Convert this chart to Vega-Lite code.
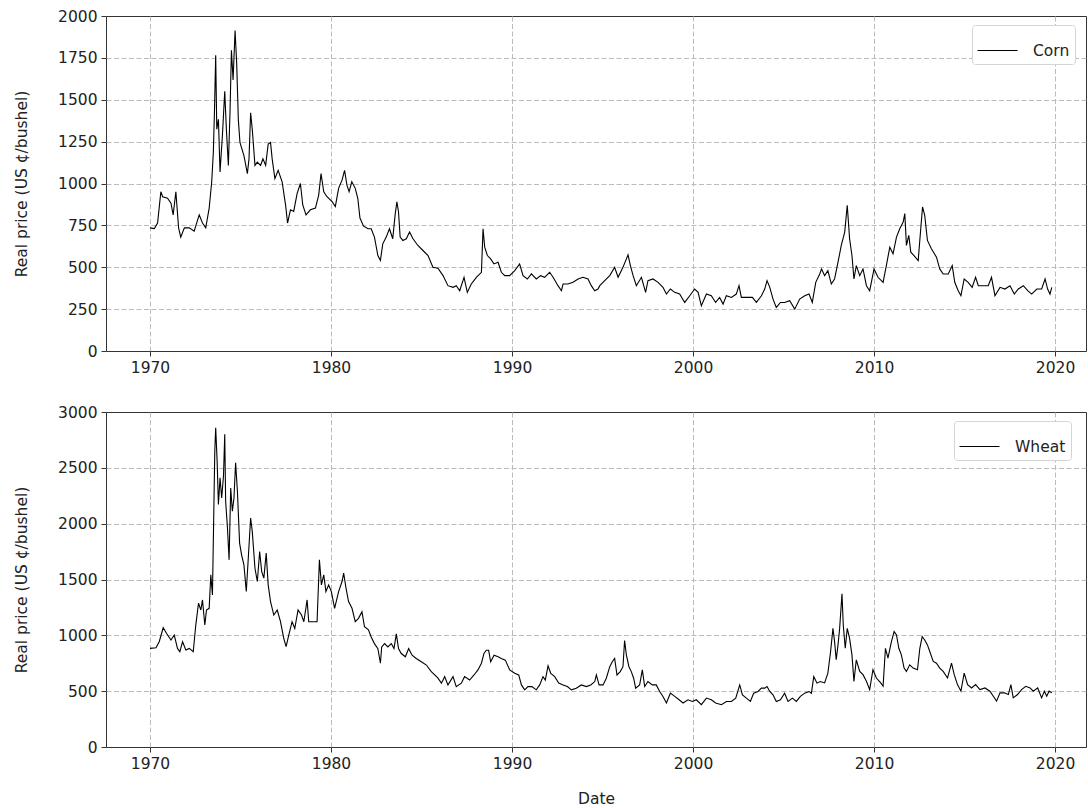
{
  "$schema": "https://vega.github.io/schema/vega-lite/v6.json",
  "padding": {"left": 14, "top": 8, "right": 0, "bottom": 0},
  "datasets": {
    "corn": [
      {"date":1970.0,"price":735},{"date":1970.24,"price":731},{"date":1970.42,"price":764},{"date":1970.6,"price":951},{"date":1970.7,"price":921},{"date":1970.97,"price":912},{"date":1971.16,"price":882},{"date":1971.28,"price":813},{"date":1971.43,"price":951},{"date":1971.58,"price":735},{"date":1971.7,"price":680},{"date":1971.9,"price":735},{"date":1972.17,"price":735},{"date":1972.44,"price":715},{"date":1972.72,"price":813},{"date":1972.9,"price":764},{"date":1973.08,"price":735},{"date":1973.27,"price":853},{"date":1973.41,"price":1010},{"date":1973.5,"price":1186},{"date":1973.56,"price":1422},{"date":1973.63,"price":1766},{"date":1973.69,"price":1324},{"date":1973.78,"price":1383},{"date":1973.87,"price":1069},{"date":1974.0,"price":1285},{"date":1974.13,"price":1550},{"date":1974.22,"price":1324},{"date":1974.33,"price":1108},{"date":1974.42,"price":1422},{"date":1974.5,"price":1795},{"date":1974.59,"price":1618},{"date":1974.7,"price":1913},{"date":1974.79,"price":1717},{"date":1974.88,"price":1383},{"date":1974.97,"price":1245},{"date":1975.19,"price":1167},{"date":1975.38,"price":1059},{"date":1975.47,"price":1147},{"date":1975.56,"price":1422},{"date":1975.65,"price":1324},{"date":1975.8,"price":1108},{"date":1975.93,"price":1128},{"date":1976.11,"price":1108},{"date":1976.24,"price":1147},{"date":1976.39,"price":1108},{"date":1976.53,"price":1236},{"date":1976.66,"price":1245},{"date":1976.75,"price":1147},{"date":1976.9,"price":1029},{"date":1977.08,"price":1079},{"date":1977.3,"price":1010},{"date":1977.49,"price":872},{"date":1977.6,"price":764},{"date":1977.76,"price":843},{"date":1977.94,"price":833},{"date":1978.13,"price":941},{"date":1978.31,"price":1000},{"date":1978.44,"price":872},{"date":1978.62,"price":813},{"date":1978.86,"price":843},{"date":1979.14,"price":853},{"date":1979.32,"price":931},{"date":1979.45,"price":1059},{"date":1979.6,"price":951},{"date":1979.78,"price":921},{"date":1980.06,"price":892},{"date":1980.24,"price":863},{"date":1980.42,"price":971},{"date":1980.61,"price":1020},{"date":1980.75,"price":1079},{"date":1980.88,"price":990},{"date":1981.0,"price":951},{"date":1981.15,"price":1010},{"date":1981.34,"price":971},{"date":1981.48,"price":912},{"date":1981.6,"price":794},{"date":1981.8,"price":745},{"date":1982.05,"price":730},
      {"date":1982.22,"price":730},{"date":1982.4,"price":680},{"date":1982.59,"price":570},{"date":1982.73,"price":540},{"date":1982.86,"price":640},{"date":1983.05,"price":680},{"date":1983.23,"price":730},{"date":1983.41,"price":670},{"date":1983.55,"price":820},{"date":1983.64,"price":890},{"date":1983.73,"price":830},{"date":1983.82,"price":680},{"date":1983.97,"price":660},{"date":1984.16,"price":670},{"date":1984.34,"price":710},{"date":1984.53,"price":670},{"date":1984.8,"price":630},{"date":1985.08,"price":600},{"date":1985.36,"price":570},{"date":1985.63,"price":500},{"date":1985.91,"price":494},{"date":1986.19,"price":450},{"date":1986.46,"price":390},{"date":1986.74,"price":380},{"date":1986.92,"price":390},{"date":1987.11,"price":360},{"date":1987.35,"price":440},{"date":1987.53,"price":350},{"date":1987.75,"price":400},{"date":1988.03,"price":440},{"date":1988.31,"price":470},{"date":1988.4,"price":730},{"date":1988.49,"price":620},{"date":1988.64,"price":570},{"date":1988.82,"price":550},{"date":1989.0,"price":520},{"date":1989.23,"price":530},{"date":1989.41,"price":470},{"date":1989.6,"price":450},{"date":1989.87,"price":450},{"date":1990.15,"price":480},{"date":1990.42,"price":520},{"date":1990.61,"price":450},{"date":1990.85,"price":430},{"date":1991.07,"price":460},{"date":1991.34,"price":430},{"date":1991.58,"price":450},{"date":1991.8,"price":440},{"date":1992.08,"price":470},{"date":1992.27,"price":440},{"date":1992.54,"price":390},{"date":1992.73,"price":360},{"date":1992.82,"price":400},{"date":1993.09,"price":400},{"date":1993.37,"price":410},{"date":1993.65,"price":430},{"date":1993.92,"price":440},{"date":1994.2,"price":430},{"date":1994.38,"price":390},{"date":1994.57,"price":360},
      {"date":1994.75,"price":370},{"date":1994.85,"price":390},{"date":1995.12,"price":420},{"date":1995.4,"price":450},{"date":1995.67,"price":500},{"date":1995.86,"price":440},{"date":1996.13,"price":500},{"date":1996.32,"price":550},{"date":1996.41,"price":574},{"date":1996.54,"price":510},{"date":1996.69,"price":450},{"date":1996.87,"price":390},{"date":1997.15,"price":440},{"date":1997.38,"price":350},{"date":1997.51,"price":420},{"date":1997.79,"price":430},{"date":1998.07,"price":410},{"date":1998.34,"price":380},{"date":1998.53,"price":340},{"date":1998.75,"price":370},{"date":1998.99,"price":350},{"date":1999.26,"price":340},{"date":1999.54,"price":290},{"date":1999.82,"price":330},{"date":2000.09,"price":370},{"date":2000.28,"price":350},{"date":2000.46,"price":270},{"date":2000.74,"price":340},{"date":2001.01,"price":330},{"date":2001.25,"price":290},{"date":2001.47,"price":320},{"date":2001.66,"price":280},{"date":2001.84,"price":330},{"date":2002.12,"price":320},{"date":2002.39,"price":340},{"date":2002.54,"price":390},{"date":2002.67,"price":320},{"date":2002.95,"price":320},{"date":2003.28,"price":320},{"date":2003.5,"price":290},{"date":2003.78,"price":330},{"date":2003.96,"price":370},{"date":2004.09,"price":420},{"date":2004.24,"price":380},{"date":2004.42,"price":310},{"date":2004.6,"price":260},{"date":2004.83,"price":290},{"date":2005.06,"price":290},{"date":2005.34,"price":300},{"date":2005.62,"price":250},{"date":2005.89,"price":310},{"date":2006.17,"price":330},{"date":2006.41,"price":340},{"date":2006.59,"price":290},{"date":2006.78,"price":410},{"date":2007.0,"price":460},
      {"date":2007.1,"price":490},{"date":2007.27,"price":450},{"date":2007.45,"price":480},{"date":2007.64,"price":400},{"date":2007.82,"price":430},{"date":2008.01,"price":530},{"date":2008.19,"price":630},{"date":2008.38,"price":710},{"date":2008.52,"price":870},{"date":2008.65,"price":670},{"date":2008.78,"price":570},{"date":2008.89,"price":430},{"date":2009.02,"price":510},{"date":2009.21,"price":450},{"date":2009.39,"price":490},{"date":2009.58,"price":390},{"date":2009.76,"price":360},{"date":2010.0,"price":490},{"date":2010.22,"price":440},{"date":2010.5,"price":410},{"date":2010.68,"price":510},{"date":2010.87,"price":620},{"date":2011.05,"price":580},{"date":2011.24,"price":680},{"date":2011.42,"price":730},{"date":2011.61,"price":770},{"date":2011.7,"price":820},{"date":2011.79,"price":630},{"date":2011.92,"price":690},{"date":2012.03,"price":590},{"date":2012.21,"price":570},{"date":2012.44,"price":540},{"date":2012.58,"price":730},{"date":2012.68,"price":860},{"date":2012.8,"price":810},{"date":2012.95,"price":660},{"date":2013.17,"price":610},{"date":2013.45,"price":560},{"date":2013.63,"price":490},{"date":2013.82,"price":460},{"date":2014.1,"price":460},{"date":2014.32,"price":510},{"date":2014.46,"price":410},{"date":2014.65,"price":360},{"date":2014.8,"price":330},{"date":2014.98,"price":430},{"date":2015.2,"price":410},{"date":2015.42,"price":380},{"date":2015.61,"price":440},{"date":2015.76,"price":390},{"date":2016.03,"price":390},{"date":2016.31,"price":390},{"date":2016.49,"price":440},{"date":2016.68,"price":330},{"date":2016.96,"price":380},{"date":2017.23,"price":370},{"date":2017.51,"price":390},{"date":2017.75,"price":340},{"date":2017.97,"price":370},{"date":2018.25,"price":390},{"date":2018.49,"price":360},{"date":2018.71,"price":340},{"date":2018.99,"price":370},{"date":2019.26,"price":370},{"date":2019.45,"price":430},{"date":2019.59,"price":370},{"date":2019.72,"price":340},{"date":2019.82,"price":380}
    ],
    "wheat": [
      {"date":1970.0,"price":883},{"date":1970.33,"price":889},{"date":1970.51,"price":943},{"date":1970.73,"price":1068},{"date":1970.92,"price":1017},{"date":1971.16,"price":958},{"date":1971.34,"price":1003},{"date":1971.52,"price":883},{"date":1971.65,"price":853},{"date":1971.8,"price":943},{"date":1971.98,"price":868},{"date":1972.17,"price":883},{"date":1972.39,"price":853},{"date":1972.53,"price":1092},{"date":1972.68,"price":1287},{"date":1972.81,"price":1227},{"date":1972.9,"price":1317},{"date":1973.03,"price":1092},{"date":1973.12,"price":1227},{"date":1973.27,"price":1242},{"date":1973.36,"price":1542},{"date":1973.45,"price":1362},{"date":1973.52,"price":2051},{"date":1973.58,"price":2650},{"date":1973.63,"price":2859},{"date":1973.71,"price":2560},{"date":1973.78,"price":2171},{"date":1973.87,"price":2410},{"date":1973.96,"price":2230},{"date":1974.06,"price":2425},{"date":1974.13,"price":2800},{"date":1974.18,"price":2200},{"date":1974.28,"price":1961},{"date":1974.37,"price":1676},{"date":1974.46,"price":2320},{"date":1974.55,"price":2111},{"date":1974.64,"price":2230},{"date":1974.73,"price":2545},{"date":1974.83,"price":2290},{"date":1974.95,"price":1826},{"date":1975.06,"price":1721},{"date":1975.19,"price":1631},{"date":1975.32,"price":1392},{"date":1975.43,"price":1691},{"date":1975.56,"price":2051},{"date":1975.65,"price":1931},{"date":1975.8,"price":1601},{"date":1975.93,"price":1482},{"date":1976.06,"price":1751},{"date":1976.17,"price":1572},{"date":1976.29,"price":1512},{"date":1976.42,"price":1736},{"date":1976.53,"price":1452},{"date":1976.66,"price":1302},{"date":1976.84,"price":1182},{"date":1977.03,"price":1227},{"date":1977.21,"price":1122},{"date":1977.39,"price":973},{"date":1977.52,"price":898},{"date":1977.67,"price":1003},{"date":1977.85,"price":1122},{"date":1978.0,"price":1062},{"date":1978.18,"price":1227},{"date":1978.37,"price":1182},{"date":1978.5,"price":1122},{"date":1978.68,"price":1317},{"date":1978.77,"price":1122},{"date":1978.95,"price":1122},{"date":1979.23,"price":1122},{"date":1979.36,"price":1676},{"date":1979.47,"price":1452},{"date":1979.6,"price":1542},{"date":1979.72,"price":1392},{"date":1979.87,"price":1452},{"date":1980.02,"price":1392},{"date":1980.2,"price":1242},{"date":1980.42,"price":1392},{"date":1980.61,"price":1482},{"date":1980.7,"price":1557},{"date":1980.83,"price":1422},{"date":1980.97,"price":1302},{"date":1981.16,"price":1242},{"date":1981.34,"price":1122},{"date":1981.52,"price":1152},{"date":1981.71,"price":1212},{"date":1981.85,"price":1077},{"date":1982.07,"price":1050},
      {"date":1982.22,"price":985},{"date":1982.4,"price":926},{"date":1982.59,"price":881},{"date":1982.73,"price":750},{"date":1982.8,"price":896},{"date":1982.96,"price":926},{"date":1983.14,"price":896},{"date":1983.33,"price":926},{"date":1983.48,"price":881},{"date":1983.61,"price":1013},{"date":1983.73,"price":881},{"date":1983.88,"price":837},{"date":1984.11,"price":808},{"date":1984.29,"price":881},{"date":1984.48,"price":822},{"date":1984.71,"price":793},{"date":1984.99,"price":763},{"date":1985.27,"price":734},{"date":1985.54,"price":675},{"date":1985.73,"price":645},{"date":1985.91,"price":616},{"date":1986.1,"price":572},{"date":1986.28,"price":630},{"date":1986.46,"price":556},{"date":1986.74,"price":630},{"date":1986.92,"price":541},{"date":1987.2,"price":572},{"date":1987.38,"price":630},{"date":1987.66,"price":600},{"date":1987.9,"price":645},{"date":1988.12,"price":690},{"date":1988.31,"price":750},{"date":1988.45,"price":837},{"date":1988.58,"price":866},{"date":1988.71,"price":866},{"date":1988.82,"price":763},{"date":1989.01,"price":822},{"date":1989.23,"price":808},{"date":1989.41,"price":793},{"date":1989.63,"price":778},{"date":1989.87,"price":690},{"date":1990.15,"price":660},{"date":1990.37,"price":645},{"date":1990.52,"price":556},{"date":1990.7,"price":512},{"date":1990.88,"price":541},{"date":1991.1,"price":541},{"date":1991.34,"price":512},{"date":1991.53,"price":556},{"date":1991.71,"price":630},{"date":1991.84,"price":600},{"date":1991.99,"price":727},{"date":1992.14,"price":660},{"date":1992.36,"price":630},{"date":1992.58,"price":572},{"date":1992.82,"price":556},{"date":1993.06,"price":541},{"date":1993.28,"price":512},{"date":1993.55,"price":527},{"date":1993.83,"price":556},{"date":1994.11,"price":541},{"date":1994.35,"price":556},{"date":1994.57,"price":586},
      {"date":1994.66,"price":645},{"date":1994.81,"price":556},{"date":1995.03,"price":556},{"date":1995.21,"price":616},{"date":1995.4,"price":719},{"date":1995.54,"price":763},{"date":1995.67,"price":793},{"date":1995.8,"price":645},{"date":1995.98,"price":675},{"date":1996.13,"price":719},{"date":1996.22,"price":954},{"date":1996.32,"price":822},{"date":1996.46,"price":719},{"date":1996.59,"price":675},{"date":1996.72,"price":616},{"date":1996.83,"price":527},{"date":1997.05,"price":556},{"date":1997.2,"price":690},{"date":1997.33,"price":541},{"date":1997.51,"price":586},{"date":1997.75,"price":556},{"date":1997.97,"price":556},{"date":1998.16,"price":497},{"date":1998.34,"price":453},{"date":1998.53,"price":394},{"date":1998.75,"price":482},{"date":1998.99,"price":453},{"date":1999.23,"price":423},{"date":1999.45,"price":394},{"date":1999.72,"price":423},{"date":1999.96,"price":408},{"date":2000.18,"price":423},{"date":2000.46,"price":379},{"date":2000.74,"price":438},{"date":2001.01,"price":423},{"date":2001.25,"price":394},{"date":2001.57,"price":379},{"date":2001.84,"price":408},{"date":2002.12,"price":408},{"date":2002.36,"price":438},{"date":2002.58,"price":556},{"date":2002.73,"price":467},{"date":2002.95,"price":438},{"date":2003.17,"price":408},{"date":2003.35,"price":482},{"date":2003.59,"price":497},{"date":2003.78,"price":527},{"date":2003.96,"price":527},{"date":2004.09,"price":541},{"date":2004.24,"price":497},{"date":2004.42,"price":467},{"date":2004.6,"price":408},{"date":2004.83,"price":423},{"date":2005.06,"price":482},{"date":2005.25,"price":408},{"date":2005.49,"price":438},{"date":2005.71,"price":408},{"date":2005.93,"price":453},{"date":2006.17,"price":482},{"date":2006.41,"price":497},{"date":2006.54,"price":482},{"date":2006.67,"price":630},{"date":2006.85,"price":572},{"date":2007.03,"price":586},
      {"date":2007.27,"price":574},{"date":2007.45,"price":662},{"date":2007.6,"price":855},{"date":2007.73,"price":1062},{"date":2007.82,"price":944},{"date":2007.91,"price":781},{"date":2008.01,"price":914},{"date":2008.1,"price":1062},{"date":2008.23,"price":1373},{"date":2008.3,"price":1092},{"date":2008.41,"price":884},{"date":2008.52,"price":1062},{"date":2008.65,"price":973},{"date":2008.78,"price":825},{"date":2008.89,"price":588},{"date":2009.02,"price":781},{"date":2009.21,"price":677},{"date":2009.39,"price":648},{"date":2009.58,"price":588},{"date":2009.76,"price":514},{"date":2009.94,"price":692},{"date":2010.13,"price":618},{"date":2010.37,"price":574},{"date":2010.5,"price":544},{"date":2010.63,"price":884},{"date":2010.77,"price":796},{"date":2010.96,"price":944},{"date":2011.11,"price":1033},{"date":2011.24,"price":1003},{"date":2011.37,"price":884},{"date":2011.51,"price":825},{"date":2011.66,"price":707},{"date":2011.79,"price":677},{"date":2011.97,"price":736},{"date":2012.16,"price":707},{"date":2012.4,"price":692},{"date":2012.53,"price":884},{"date":2012.66,"price":988},{"date":2012.8,"price":958},{"date":2012.95,"price":914},{"date":2013.08,"price":855},{"date":2013.27,"price":766},{"date":2013.45,"price":751},{"date":2013.63,"price":707},{"date":2013.82,"price":677},{"date":2014.06,"price":618},{"date":2014.28,"price":751},{"date":2014.43,"price":648},{"date":2014.61,"price":559},{"date":2014.8,"price":500},{"date":2014.98,"price":662},{"date":2015.17,"price":559},{"date":2015.39,"price":529},{"date":2015.61,"price":559},{"date":2015.85,"price":514},{"date":2016.13,"price":529},{"date":2016.4,"price":500},{"date":2016.59,"price":455},{"date":2016.77,"price":411},{"date":2016.96,"price":485},{"date":2017.2,"price":485},{"date":2017.42,"price":470},{"date":2017.56,"price":559},{"date":2017.69,"price":440},{"date":2017.93,"price":470},{"date":2018.15,"price":514},{"date":2018.38,"price":544},{"date":2018.62,"price":529},{"date":2018.8,"price":500},{"date":2019.04,"price":529},{"date":2019.26,"price":440},{"date":2019.41,"price":500},{"date":2019.54,"price":455},{"date":2019.67,"price":500},{"date":2019.82,"price":485}
    ]
  },
  "config": {
    "font": "DejaVu Sans",
    "view": {"stroke": "#333", "strokeWidth": 1},
    "axis": {
      "labelFont": "DejaVu Sans", "labelFontSize": 15.5, "labelColor": "#222",
      "titleFont": "DejaVu Sans", "titleFontSize": 15.5, "titleFontWeight": "normal", "titleColor": "#222",
      "tickColor": "#333", "tickSize": 5, "labelPadding": 4, "domain": false,
      "grid": true, "gridDash": [5, 2.5], "gridWidth": 1
    },
    "legend": {
      "labelFont": "DejaVu Sans", "labelFontSize": 15.5, "labelColor": "#222",
      "symbolType": "stroke", "symbolSize": 1600, "symbolStrokeWidth": 1,
      "strokeColor": "#d5d5d5", "fillColor": "white", "padding": 5, "cornerRadius": 3,
      "labelOffset": 15
    },
    "concat": {"spacing": 28}
  },
  "resolve": {"scale": {"color": "independent"}, "legend": {"color": "independent"}},
  "vconcat": [
    {
      "width": 980, "height": 335,
      "data": {"name": "corn"},
      "mark": {"type": "line", "strokeWidth": 1.1},
      "encoding": {
        "x": {"field": "date", "type": "quantitative",
              "scale": {"domain": [1967.57, 2021.71], "nice": false, "zero": false},
              "axis": {"values": [1970, 1980, 1990, 2000, 2010, 2020], "format": "d", "title": null, "gridColor": "#bbbbbb"}},
        "y": {"field": "price", "type": "quantitative",
              "scale": {"domain": [0, 2000], "nice": false},
              "axis": {"values": [0, 250, 500, 750, 1000, 1250, 1500, 1750, 2000], "format": "d", "title": "Real price (US ¢/bushel)", "titlePadding": 28,
                       "gridColor": {"condition": {"test": "datum.value === 0 || datum.value === 2000", "value": "transparent"}, "value": "#bbbbbb"}}},
        "color": {"datum": "Corn", "type": "nominal", "scale": {"range": ["#000000"]},
                  "legend": {"orient": "none", "legendX": 866, "legendY": 9, "title": null, "symbolStrokeColor": "#555"}}
      }
    },
    {
      "width": 980, "height": 335,
      "data": {"name": "wheat"},
      "mark": {"type": "line", "strokeWidth": 1.1},
      "encoding": {
        "x": {"field": "date", "type": "quantitative",
              "scale": {"domain": [1967.57, 2021.71], "nice": false, "zero": false},
              "axis": {"values": [1970, 1980, 1990, 2000, 2010, 2020], "format": "d", "title": "Date", "titlePadding": 20, "gridColor": "#bbbbbb"}},
        "y": {"field": "price", "type": "quantitative",
              "scale": {"domain": [0, 3000], "nice": false},
              "axis": {"values": [0, 500, 1000, 1500, 2000, 2500, 3000], "format": "d", "title": "Real price (US ¢/bushel)", "titlePadding": 28,
                       "gridColor": {"condition": {"test": "datum.value === 0 || datum.value === 3000", "value": "transparent"}, "value": "#bbbbbb"}}},
        "color": {"datum": "Wheat", "type": "nominal", "scale": {"range": ["#000000"]},
                  "legend": {"orient": "none", "legendX": 848, "legendY": 9, "title": null}}
      }
    }
  ]
}
